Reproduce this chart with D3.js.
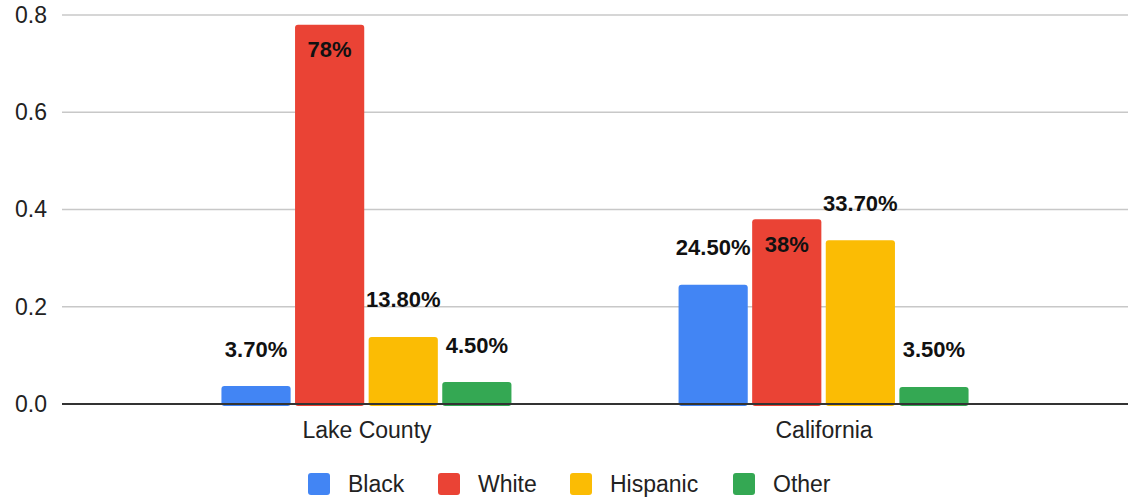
<!DOCTYPE html>
<html>
<head>
<meta charset="utf-8">
<script src="https://cdn.jsdelivr.net/npm/d3@7"></script>
<style>
  html, body { margin: 0; padding: 0; background: #fff; }
  svg { display: block; font-family: "Liberation Sans", Arial, sans-serif; }
</style>
</head>
<body>
<svg id="chart" width="1128" height="498"></svg>
<script>
// Population share by race / ethnicity
const regions = ["Lake County", "California"];
const groups = ["Black", "White", "Hispanic", "Other"];
const black = [0.037, 0.245];
const white = [0.78, 0.38];
const hispanic = [0.138, 0.337];
const other = [0.045, 0.035];
const valueLabels = [
  ["3.70%", "78%", "13.80%", "4.50%"],
  ["24.50%", "38%", "33.70%", "3.50%"]
];
const yTicks = [0, 0.2, 0.4, 0.6, 0.8];
const colors = ["#4285F4", "#EA4335", "#FBBC04", "#34A853"];

const seriesValues = [black, white, hispanic, other];

const svg = d3.select("#chart");
const plotLeft = 62, plotRight = 1128, plotTop = 15, plotBottom = 404;

const y = d3.scaleLinear().domain([0, 0.8]).range([plotBottom, plotTop]);
const x0 = d3.scalePoint().domain(regions).range([plotLeft, plotRight]).padding(0.666);
const x1 = d3.scaleBand().domain(groups).range([-145, 145]).paddingInner(0.06);

// gridlines
svg.append("g")
  .selectAll("line")
  .data(yTicks.filter(t => t > 0))
  .join("line")
  .attr("x1", plotLeft).attr("x2", plotRight)
  .attr("y1", d => y(d)).attr("y2", d => y(d))
  .attr("stroke", "#c8c8c8").attr("stroke-width", 1.3);

// y-axis labels
const yAxis = d3.axisLeft(y).tickValues(yTicks).tickFormat(d3.format(".1f")).tickSize(0).tickPadding(15);
const yg = svg.append("g").attr("transform", `translate(${plotLeft},0)`).call(yAxis);
yg.select(".domain").remove();
yg.selectAll("text").attr("font-size", 23).attr("fill", "#222").attr("font-family", "Liberation Sans, Arial, sans-serif");

// bars
const data = [];
regions.forEach((r, i) => {
  groups.forEach((g, j) => {
    data.push({ region: r, group: g, value: seriesValues[j][i], label: valueLabels[i][j], color: colors[j] });
  });
});

svg.append("g")
  .selectAll("rect")
  .data(data)
  .join("rect")
  .attr("x", d => x0(d.region) + x1(d.group))
  .attr("y", d => y(d.value))
  .attr("width", x1.bandwidth())
  .attr("height", d => y(0) - y(d.value) + 2)
  .attr("rx", 3)
  .attr("fill", d => d.color);

// baseline
svg.append("line")
  .attr("x1", plotLeft).attr("x2", plotRight)
  .attr("y1", y(0)).attr("y2", y(0))
  .attr("stroke", "#333").attr("stroke-width", 2);

// value labels: inside the tall White bars, above the others
svg.append("g")
  .selectAll("text")
  .data(data)
  .join("text")
  .attr("x", d => x0(d.region) + x1(d.group) + x1.bandwidth() / 2)
  .attr("y", d => d.group === "White" ? y(d.value) + 25 : y(d.value) - 37)
  .attr("text-anchor", "middle")
  .attr("dominant-baseline", "central")
  .attr("font-size", 22)
  .attr("font-weight", "bold")
  .attr("fill", "#111")
  .text(d => d.label);

// category labels
const xAxis = d3.axisBottom(x0).tickSize(0).tickPadding(18);
const xg = svg.append("g").attr("transform", `translate(0,${plotBottom})`).call(xAxis);
xg.select(".domain").remove();
xg.selectAll("text").attr("font-size", 23).attr("fill", "#222").attr("font-family", "Liberation Sans, Arial, sans-serif");

// legend
const legendX = [308, 438, 570, 733];
const legend = svg.append("g")
  .selectAll("g")
  .data(groups)
  .join("g")
  .attr("transform", (d, i) => `translate(${legendX[i]},473)`);
legend.append("rect")
  .attr("width", 22).attr("height", 22).attr("rx", 3)
  .attr("fill", (d, i) => colors[i]);
legend.append("text")
  .attr("x", 40).attr("y", 11)
  .attr("dominant-baseline", "central")
  .attr("font-size", 23)
  .attr("fill", "#222")
  .text(d => d);
</script>
</body>
</html>
